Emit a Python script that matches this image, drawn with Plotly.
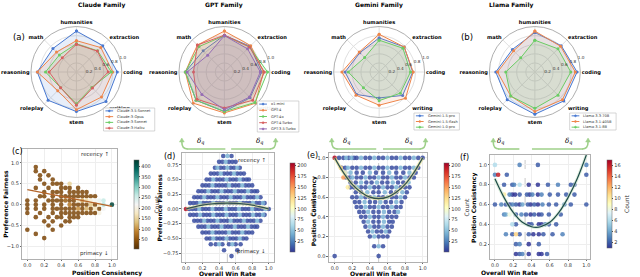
import plotly.graph_objects as go

W, H = 640, 277
def X(px): return px / W
def Y(py): return 1 - py / H

FONT = "DejaVu Sans"
categories = ["humanities", "extraction", "coding", "writing", "stem", "roleplay", "reasoning", "math"]

claude_family = {
    "Claude-3.5-Sonnet": [0.90, 0.82, 0.90, 0.92, 0.87, 0.88, 0.86, 0.73],
    "Claude-3-Opus":     [0.69, 0.76, 0.80, 0.78, 0.83, 0.58, 0.86, 0.62],
    "Claude-3-Sonnet":   [0.62, 0.66, 0.77, 0.48, 0.70, 0.49, 0.68, 0.53],
    "Claude-3-Haiku":    [0.61, 0.65, 0.70, 0.50, 0.73, 0.49, 0.60, 0.44],
}
gpt_family = {
    "o1-mini":       [0.81, 0.80, 0.82, 0.80, 0.87, 0.88, 0.86, 0.66],
    "GPT-4":         [0.90, 0.82, 0.86, 0.97, 0.90, 0.97, 0.86, 0.84],
    "GPT-4o":        [0.80, 0.78, 0.95, 0.95, 0.87, 0.88, 0.86, 0.79],
    "GPT-4-Turbo":   [0.81, 0.78, 0.88, 0.88, 0.79, 0.85, 0.68, 0.84],
    "GPT-3.5-Turbo": [0.80, 0.72, 0.79, 0.78, 0.83, 0.70, 0.82, 0.52],
}
gemini_family = {
    "Gemini-1.5-pro":   [0.75, 0.78, 0.74, 0.73, 0.57, 0.70, 0.75, 0.60],
    "Gemini-1.5-flash": [0.83, 0.78, 0.75, 0.82, 0.73, 0.72, 0.82, 0.62],
    "Gemini-1.0-pro":   [0.70, 0.74, 0.69, 0.66, 0.63, 0.49, 0.68, 0.45],
}
llama_family = {
    "Llama-3.3-70B":  [0.87, 0.82, 0.93, 0.90, 0.93, 0.86, 0.86, 0.70],
    "Llama-3.1-405B": [0.90, 0.80, 0.89, 0.86, 0.87, 0.75, 0.82, 0.66],
    "Llama-3.1-8B":   [0.70, 0.72, 0.79, 0.72, 0.80, 0.75, 0.64, 0.44],
}
family_titles = ["Claude Family", "GPT Family", "Gemini Family", "Llama Family"]
palette = ["#4878d0", "#ee854a", "#6acc64", "#d65f5f", "#956cb4"]
palette_rgb = [(72, 120, 208), (238, 133, 74), (106, 204, 100), (214, 95, 95), (149, 108, 180)]
radial_ticks = [0.2, 0.4, 0.6, 0.8, 1.0]

# ---- (c) Position Consistency vs Preference Fairness ----
c_columns = {
    0.0: [0.1, 0.0, -0.1, -0.2, -0.6],
    0.1: [0.9, 0.8, 0.4, 0.1, 0.0, -0.1, -0.3, -0.7],
    0.15: [0.7, 0.6, 0.2, -0.2],
    0.2: [0.8, 0.5, 0.3, 0.2, 0.0, -0.1, -0.4, -0.8],
    0.25: [0.7, 0.4, 0.1, -0.3, -0.5],
    0.3: [0.6, 0.5, 0.3, 0.2, 0.1, 0.0, -0.1, -0.2, -0.4, -0.6],
    0.35: [0.5, 0.3, 0.1, -0.1, -0.3],
    0.4: [0.5, 0.4, 0.3, 0.2, 0.1, 0.0, -0.1, -0.2, -0.3, -0.5],
    0.45: [0.4, 0.2, 0.1, -0.1, -0.2, -0.4],
    0.5: [0.5, 0.4, 0.3, 0.2, 0.1, 0.0, -0.1, -0.2, -0.3, -0.4],
    0.55: [0.3, 0.2, 0.1, 0.0, -0.1, -0.2, -0.3],
    0.6: [0.4, 0.3, 0.2, 0.1, 0.0, -0.1, -0.2, -0.3],
    0.65: [0.3, 0.2, 0.1, 0.0, -0.1, -0.2],
    0.7: [0.3, 0.2, 0.1, 0.0, -0.1, -0.2],
    0.75: [0.2, 0.1, 0.0, -0.1, -0.2],
    0.8: [0.2, 0.1, 0.0, -0.1, -0.2],
    0.85: [0.1, 0.0, -0.1, -0.2],
    0.9: [0.1, 0.0, -0.1],
    1.0: [0.0],
}
c_default_count = 35
c_special_counts = {
    (0.5, 0.5): 150, (0.6, 0.1): 180, (0.7, 0.1): 160, (0.75, 0.1): 190, (0.8, 0.1): 210,
    (0.85, 0.1): 230, (0.9, 0.1): 260, (0.9, 0.0): 270, (0.85, 0.0): 180, (0.8, -0.1): 170,
    (0.85, -0.2): 200, (0.9, -0.1): 220, (0.7, -0.1): 120, (1.0, 0.0): 420, (0.6, -0.1): 100,
    (0.5, 0.0): 80, (0.45, 0.1): 60, (0.75, 0.0): 140, (0.65, 0.1): 110,
}
c_fit_x = [0.0, 1.0]
c_fit_y = [0.36, -0.04]

# ---- (d) Overall Win Rate (%) vs Preference Fairness ----
d_rows = {
    0.9: ([45, 55], [50]),
    0.8: ([40, 44, 52, 56, 60], [48]),
    0.7: ([35, 42, 46, 54, 58, 65], [38, 50, 62]),
    0.6: ([30, 34, 38, 46, 50, 54, 62, 66, 70], [42, 58]),
    0.5: ([25, 29, 37, 41, 45, 53, 57, 61, 69, 73, 76], [33, 49, 65]),
    0.4: ([20, 24, 28, 36, 40, 44, 48, 56, 60, 64, 72, 76, 80], [32, 52, 68]),
    0.3: ([15, 19, 23, 31, 35, 39, 47, 51, 55, 63, 67, 71, 79, 83, 86], [27, 43, 59, 75]),
    0.2: ([10, 14, 18, 26, 30, 34, 42, 46, 50, 58, 62, 66, 74, 78, 82, 90], [22, 38, 54, 70, 86]),
    0.1: ([5, 9, 13, 21, 25, 29, 37, 41, 45, 53, 57, 61, 69, 73, 77, 85, 89, 95], [17, 33, 49, 65, 81, 93]),
    0.0: ([4, 8, 12, 20, 24, 28, 36, 40, 44, 52, 56, 60, 68, 72, 76, 84, 88, 92, 100], [16, 32, 48, 64, 80, 96]),
    -0.1: ([5, 9, 13, 21, 25, 29, 37, 41, 45, 53, 57, 61, 69, 73, 77, 85, 89, 95], [17, 33, 49, 65, 81, 93]),
    -0.2: ([10, 14, 18, 26, 30, 34, 42, 46, 50, 58, 62, 66, 74, 78, 82, 90], [22, 38, 54, 70, 86]),
    -0.3: ([15, 19, 23, 31, 35, 39, 47, 51, 55, 63, 67, 71, 79, 83, 86], [27, 43, 59, 75]),
    -0.4: ([20, 24, 28, 36, 40, 44, 48, 56, 60, 64, 72, 76, 80], [32, 52, 68]),
    -0.5: ([25, 29, 37, 41, 45, 53, 57, 61, 69, 73], [33, 49, 65]),
    -0.6: ([30, 36, 44, 52, 60, 66], [40, 56]),
    -0.7: ([46, 62], []),
    -0.8: ([55], []),
}
d_special = [(0, 0.0, 200)]
d_fit_x = [0.0, 0.1, 0.2, 0.3, 0.4, 0.5, 0.6, 0.7, 0.8, 0.9, 1.0]
d_fit_y = [0.0, 0.036, 0.064, 0.084, 0.096, 0.10, 0.096, 0.084, 0.064, 0.036, 0.0]

# ---- (e) Overall Win Rate (%) vs Position Consistency ----
e_rows = {
    1.0: ([5, 10, 16, 22, 25, 35, 40, 50, 55, 65, 70, 80, 85, 95, 100], [13, 19, 30, 45, 60, 75, 90]),
    0.9: ([8, 12, 20, 25, 35, 40, 50, 55, 65, 70, 80, 85, 95], [15, 30, 45, 60, 75, 90]),
    0.85: ([12, 25, 32, 47, 55, 70, 78, 92], [18, 40, 62, 85]),
    0.8: ([13, 17, 25, 30, 40, 45, 55, 60, 70, 75, 85, 90], [20, 35, 50, 65, 80]),
    0.75: ([18, 24, 36, 42, 54, 60, 72, 78], [30, 48, 66, 84]),
    0.7: ([18, 22, 30, 35, 45, 50, 60, 65, 75, 80, 85], [26, 40, 55, 70]),
    0.65: ([24, 30, 44, 50, 64, 70, 82], [37, 57, 77]),
    0.6: ([20, 25, 35, 40, 50, 55, 65, 70, 80], [30, 45, 60, 75]),
    0.55: ([23, 28, 40, 46, 58, 64, 76], [34, 52, 70]),
    0.5: ([25, 30, 40, 45, 55, 60, 70, 75], [35, 50, 65]),
    0.45: ([28, 33, 44, 50, 62, 68], [38, 56, 72]),
    0.4: ([30, 35, 45, 50, 60, 65, 70], [40, 55]),
    0.35: ([33, 44, 50, 62, 66], [38, 56]),
    0.3: ([35, 45, 50, 60, 65], [40, 55]),
    0.25: ([38, 48, 53, 62], [43, 58]),
    0.2: ([40, 50, 55, 60], [45]),
    0.1: ([45, 55], [50]),
    0.0: ([0, 50], []),
}
e_special = [(0, 1.0, 200), (7, 0.9, 130), (10, 0.8, 150), (15, 0.7, 115), (12, 0.85, 95)]
e_fit_x = [0.0, 0.1, 0.2, 0.3, 0.4, 0.5, 0.6, 0.7, 0.8, 0.9, 1.0]
e_fit_y = [1.0, 0.85, 0.73, 0.65, 0.60, 0.585, 0.60, 0.65, 0.73, 0.85, 1.0]

# ---- (f) Overall Win Rate vs Position Consistency (x, count) per row ----
f_rows = {
    1.0: [(0.0, 6), (0.27, 3), (0.47, 2), (1.0, 3)],
    0.9: [(0.0, 3), (0.035, 16), (0.13, 2), (1.0, 2)],
    0.8: [(0.1, 2), (0.19, 2), (0.21, 3), (0.27, 6), (0.37, 1), (0.47, 1), (0.58, 2), (0.69, 3), (0.83, 2), (0.87, 2)],
    0.7: [(0.1, 10), (0.16, 3), (0.19, 1), (0.22, 1), (0.27, 2), (0.35, 2), (0.38, 1), (0.41, 3), (0.47, 1),
          (0.51, 3), (0.6, 2), (0.69, 2), (0.78, 2), (0.87, 2)],
    0.6: [(0.0, 2), (0.07, 3), (0.12, 2), (0.16, 1), (0.19, 3), (0.23, 2), (0.27, 1), (0.3, 4), (0.36, 2),
          (0.39, 1), (0.43, 2), (0.47, 1), (0.52, 3), (0.59, 2), (0.67, 2), (0.76, 3), (0.83, 2), (1.0, 2)],
    0.5: [(0.1, 3), (0.12, 4), (0.16, 8), (0.23, 2), (0.29, 3), (0.34, 2), (0.39, 1), (0.43, 2), (0.48, 1),
          (0.51, 2), (0.59, 2), (0.72, 2)],
    0.4: [(0.19, 6), (0.23, 2), (0.37, 1), (0.4, 2), (0.48, 1), (0.51, 1), (0.55, 3), (0.59, 2), (0.67, 2)],
    0.3: [(0.12, 3), (0.19, 2), (0.23, 11), (0.27, 2), (0.37, 2), (0.42, 1), (0.48, 1), (0.53, 2), (0.63, 2), (0.74, 3)],
    0.2: [(0.23, 2), (0.27, 3), (0.37, 1), (0.48, 2)],
    0.1: [(0.23, 1), (0.27, 2), (0.3, 3), (0.37, 1), (0.48, 1), (0.51, 1), (0.57, 2)],
}
f_fit_x = [0.0, 0.1, 0.2, 0.3, 0.4, 0.45, 0.5, 0.6, 0.7, 0.8, 0.9, 1.0]
f_fit_y = [0.86, 0.67, 0.52, 0.42, 0.376, 0.37, 0.376, 0.42, 0.52, 0.67, 0.86, 1.10]
f_split = 0.33

dark_count, light_count = 8, 45

fig = go.Figure()

# ---------------- radar charts ----------------
families = [claude_family, gpt_family, gemini_family, llama_family]
centers = [(79, 72), (232, 72), (392, 72), (553, 72)]
R = 47
legend_boxes = [(107, 108, 160, 131), (266, 101, 309, 132), (428, 113, 475, 130), (589, 113, 637, 130)]
shapes = []
annotations = []

for i, fam in enumerate(families):
    key = "polar" if i == 0 else f"polar{i+1}"
    for j, (name, vals) in enumerate(fam.items()):
        r, g, b = palette_rgb[j]
        fig.add_trace(go.Scatterpolar(
            r=vals + vals[:1], theta=categories + categories[:1], subplot=key,
            mode="lines+markers", fill="toself", fillcolor=f"rgba({r},{g},{b},0.13)",
            line=dict(color=palette[j], width=1), marker=dict(size=3, color=palette[j]),
            showlegend=False, name=name))
    cx, cy = centers[i]
    fig.update_layout(**{key: dict(
        domain=dict(x=[X(cx - R), X(cx + R)], y=[Y(cy + R), Y(cy - R)]),
        bgcolor="white",
        angularaxis=dict(rotation=90, direction="clockwise", tickfont=dict(size=5.1, family=FONT, color="black", weight="bold"),
                         gridcolor="#e0e0e0", gridwidth=0.6, linecolor="#9a9a9a", linewidth=0.8, ticks=""),
        radialaxis=dict(range=[0, 1.0], tickvals=radial_ticks, ticktext=[f"{t:.1f}" for t in radial_ticks],
                        tickfont=dict(size=4.2, family=FONT, color="#333"), angle=22.5, tickangle=22.5,
                        showline=False, gridcolor="#e0e0e0", gridwidth=0.6, ticks=""),
    )})
    annotations.append(dict(text=f"<b>{family_titles[i]}</b>", x=X(cx), y=Y(5), xref="paper", yref="paper",
                            showarrow=False, font=dict(size=6, family=FONT, color="black"), yanchor="middle"))
    # manual legend
    x0, y0, x1, y1 = legend_boxes[i]
    shapes.append(dict(type="rect", xref="paper", yref="paper", x0=X(x0), x1=X(x1), y0=Y(y1), y1=Y(y0),
                       line=dict(color="#bbbbbb", width=0.6), fillcolor="rgba(255,255,255,0.92)", layer="above"))
    n = len(fam)
    step = (y1 - y0) / n
    for j, name in enumerate(fam.keys()):
        yy = y0 + step * (j + 0.5)
        shapes.append(dict(type="line", xref="paper", yref="paper", x0=X(x0 + 2), x1=X(x0 + 10), y0=Y(yy), y1=Y(yy),
                           line=dict(color=palette[j], width=1), layer="above"))
        shapes.append(dict(type="circle", xref="paper", yref="paper", x0=X(x0 + 5), x1=X(x0 + 7), y0=Y(yy + 1), y1=Y(yy - 1),
                           line=dict(color=palette[j], width=0.5), fillcolor=palette[j], layer="above"))
        annotations.append(dict(text=name, x=X(x0 + 12), y=Y(yy), xref="paper", yref="paper", showarrow=False,
                                xanchor="left", yanchor="middle", font=dict(size=3.6, family=FONT, color="#333")))

annotations.append(dict(text="(a)", x=X(11), y=Y(30), xref="paper", yref="paper", showarrow=False,
                        font=dict(size=8.5, family=FONT, color="black")))
annotations.append(dict(text="(b)", x=X(491), y=Y(30), xref="paper", yref="paper", showarrow=False,
                        font=dict(size=8.5, family=FONT, color="black")))

# ---------------- scatter panels ----------------
def build_c():
    xs, ys, cs = [], [], []
    for xv, ylist in c_columns.items():
        for yv in ylist:
            xs.append(xv); ys.append(yv); cs.append(c_special_counts.get((xv, yv), c_default_count))
    return xs, ys, cs

def build_rows(rows, special):
    xs, ys, cs = [], [], []
    for yv, (dark, light) in rows.items():
        for xv in dark:
            xs.append(xv / 100); ys.append(yv); cs.append(dark_count)
        for xv in light:
            xs.append(xv / 100); ys.append(yv); cs.append(light_count)
    for xv, yv, cnt in special:
        xs.append(xv / 100); ys.append(yv); cs.append(cnt)
    return xs, ys, cs

def build_f():
    xs, ys, cs = [], [], []
    for yv, pts in f_rows.items():
        for xv, cnt in pts:
            xs.append(xv); ys.append(yv); cs.append(cnt)
    return xs, ys, cs

def sort_by_count(xs, ys, cs):
    order = sorted(range(len(cs)), key=lambda k: cs[k])
    return [xs[k] for k in order], [ys[k] for k in order], [cs[k] for k in order]

panels = [
    dict(data=build_c(), ax="", ca="coloraxis", fitx=c_fit_x, fity=c_fit_y, fitcolor="#b5652a", glow=None),
    dict(data=build_rows(d_rows, d_special), ax="2", ca="coloraxis2", fitx=d_fit_x, fity=d_fit_y, fitcolor="#2f4f4f", glow="rgba(230,225,150,0.6)"),
    dict(data=build_rows(e_rows, e_special), ax="3", ca="coloraxis3", fitx=e_fit_x, fity=e_fit_y, fitcolor="#2f4f4f", glow="rgba(230,225,150,0.7)"),
    dict(data=build_f(), ax="4", ca="coloraxis4", fitx=f_fit_x, fity=f_fit_y, fitcolor="#1f4a4a", glow="rgba(200,230,200,0.6)"),
]
for p in panels:
    xs, ys, cs = sort_by_count(*p["data"])
    fig.add_trace(go.Scatter(x=xs, y=ys, mode="markers", xaxis="x" + p["ax"], yaxis="y" + p["ax"], showlegend=False,
                             marker=dict(color=cs, coloraxis=p["ca"], size=4.6, opacity=0.85, line=dict(width=0))))
    if p["glow"]:
        fig.add_trace(go.Scatter(x=p["fitx"], y=p["fity"], mode="lines", line=dict(color=p["glow"], width=3.2, shape="spline"),
                                 xaxis="x" + p["ax"], yaxis="y" + p["ax"], showlegend=False, hoverinfo="skip"))
    fig.add_trace(go.Scatter(x=p["fitx"], y=p["fity"], mode="lines", line=dict(color=p["fitcolor"], width=1.2, shape="spline"),
                             xaxis="x" + p["ax"], yaxis="y" + p["ax"], showlegend=False, hoverinfo="skip"))

tickfont = dict(size=5, family=FONT, color="#333")
common = dict(showline=True, linecolor="#b0b0b0", linewidth=0.8, mirror=True, gridcolor="#eeeeee", gridwidth=0.6,
              zeroline=False, ticks="outside", ticklen=1.5, tickwidth=0.6, tickcolor="#666", tickfont=tickfont)
xt = [0, 0.2, 0.4, 0.6, 0.8, 1.0]

fig.update_layout(
    xaxis=dict(domain=[X(23), X(121)], range=[-0.06, 1.06], tickvals=xt, tickformat=".1f", anchor="y", **common),
    yaxis=dict(domain=[Y(259), Y(149)], range=[-1.3, 1.33], tickvals=[-1, -0.5, 0, 0.5, 1], tickformat=".1f", anchor="x", **common),
    xaxis2=dict(domain=[X(188), X(283)], range=[-0.05, 1.06], tickvals=xt, tickformat=".1f", anchor="y2", **common),
    yaxis2=dict(domain=[Y(262), Y(153)], range=[-0.9, 0.95], tickvals=[-0.75, -0.5, -0.25, 0, 0.25, 0.5, 0.75], tickformat=".2f",
                anchor="x2", **common),
    xaxis3=dict(domain=[X(340), X(442)], range=[-0.066, 1.055], tickvals=xt, tickformat=".1f", anchor="y3", **common),
    yaxis3=dict(domain=[Y(262), Y(153)], range=[-0.06, 1.05], tickvals=xt, tickformat=".1f", anchor="x3", **common),
    xaxis4=dict(domain=[X(507), X(610)], range=[-0.05, 1.04], tickvals=xt, tickformat=".1f", anchor="y4", **common),
    yaxis4=dict(domain=[Y(259), Y(155)], range=[0.05, 1.1], tickvals=[0.2, 0.4, 0.6, 0.8, 1.0], tickformat=".1f", anchor="x4", **common),
)

# axis titles as annotations for exact placement
titlefont = dict(size=6, family=FONT, color="black", weight="bold")
for text, px, py in [("Position Consistency", 72, 273), ("Overall Win Rate", 235, 273.5), ("Overall Win Rate", 391, 273.5),
                     ("Overall Win Rate", 558, 272.5)]:
    annotations.append(dict(text=text, x=X(px), y=Y(py), xref="paper", yref="paper", showarrow=False, yanchor="middle",
                            font=titlefont))
for text, px, py in [("Preference Fairness", 5, 204), ("Preference Fairness", 164, 208), ("Position Consistency", 325, 211),
                     ("Position Consistency", 490, 208)]:
    annotations.append(dict(text=text, x=X(px), y=Y(py), xref="paper", yref="paper", showarrow=False, textangle=-90,
                            xanchor="center", yanchor="middle", font=titlefont))

def cbar(xpx, ytop, ybot, ticks):
    return dict(x=X(xpx), xanchor="left", y=Y((ytop + ybot) / 2), yanchor="middle", len=(ybot - ytop) / H, lenmode="fraction",
                thickness=5, outlinewidth=0.5, outlinecolor="#666", tickvals=ticks, tickfont=dict(size=5, family=FONT, color="#333"),
                ticks="outside", ticklen=1.5, title=dict(text="Count", side="right", font=dict(size=6, family=FONT, color="#333")))

fig.update_layout(
    coloraxis=dict(colorscale="BrBG", cmin=5, cmax=430, colorbar=cbar(128, 150, 259, [50, 100, 150, 200, 250, 300, 350, 400])),
    coloraxis2=dict(colorscale="RdYlBu", reversescale=True, cmin=1, cmax=205, colorbar=cbar(289, 153, 262, [25, 50, 75, 100, 125, 150, 175, 200])),
    coloraxis3=dict(colorscale="RdYlBu", reversescale=True, cmin=1, cmax=205, colorbar=cbar(449, 153, 262, [25, 50, 75, 100, 125, 150, 175, 200])),
    coloraxis4=dict(colorscale="RdYlBu", reversescale=True, cmin=1, cmax=17, colorbar=cbar(617, 150, 258, [2, 4, 6, 8, 10, 12, 14, 16])),
)

# dashed split lines
for ax, xv in [("2", 0.5), ("3", 0.5), ("4", f_split)]:
    shapes.append(dict(type="line", xref="x" + ax, yref="y" + ax + " domain", x0=xv, x1=xv, y0=0, y1=1,
                       line=dict(color="#bbbbbb", width=0.8, dash="dash"), layer="below"))

# brackets with curved arrows above d, e, f
green = "#9fd08a"
for (l0, l1, r0, r1, lab_l, lab_r) in [(188, 233, 239, 285, 202, 268), (343, 389, 396, 440, 358, 428), (510, 537, 550, 608, 523, 593)]:
    yl = 149
    shapes.append(dict(type="line", xref="paper", yref="paper", x0=X(l0 + 5), x1=X(l1), y0=Y(yl), y1=Y(yl), line=dict(color=green, width=1.6)))
    shapes.append(dict(type="line", xref="paper", yref="paper", x0=X(r0), x1=X(r1 - 5), y0=Y(yl), y1=Y(yl), line=dict(color=green, width=1.6)))
    shapes.append(dict(type="path", xref="paper", yref="paper",
                       path=f"M {X(l0+6)},{Y(yl)} Q {X(l0)},{Y(yl)} {X(l0)},{Y(yl-7)}", line=dict(color=green, width=1.6)))
    shapes.append(dict(type="path", xref="paper", yref="paper",
                       path=f"M {X(l0-2.5)},{Y(yl-7)} L {X(l0+2.5)},{Y(yl-7)} L {X(l0)},{Y(yl-11)} Z", line=dict(color=green, width=0.5), fillcolor=green))
    shapes.append(dict(type="path", xref="paper", yref="paper",
                       path=f"M {X(r1-6)},{Y(yl)} Q {X(r1)},{Y(yl)} {X(r1)},{Y(yl-7)}", line=dict(color=green, width=1.6)))
    shapes.append(dict(type="path", xref="paper", yref="paper",
                       path=f"M {X(r1-2.5)},{Y(yl-7)} L {X(r1+2.5)},{Y(yl-7)} L {X(r1)},{Y(yl-11)} Z", line=dict(color=green, width=0.5), fillcolor=green))
    for lx in (lab_l, lab_r):
        annotations.append(dict(text="<i>δ</i><sub><i>q</i></sub>", x=X(lx), y=Y(141), xref="paper", yref="paper", showarrow=False,
                                font=dict(size=7, family="DejaVu Serif", color="black")))

# panel labels and text
for lab, px, py in [("(c)", 10, 151), ("(d)", 168, 156), ("(e)", 323, 155), ("(f)", 487, 157)]:
    annotations.append(dict(text=lab, x=X(px), y=Y(py), xref="paper", yref="paper", showarrow=False,
                            font=dict(size=8, family=FONT, color="black")))
for ax, ytop, ybot in [("", 1.2, -1.17), ("2", 0.83, -0.72)]:
    annotations.append(dict(text="recency ↑", x=0.99, y=ytop, xref="x" + ax, yref="y" + ax, showarrow=False, xanchor="right",
                            font=dict(size=5.5, family=FONT, color="#333")))
    annotations.append(dict(text="primacy ↓", x=0.99, y=ybot, xref="x" + ax, yref="y" + ax, showarrow=False, xanchor="right",
                            font=dict(size=5.5, family=FONT, color="#333")))

fig.update_layout(width=W, height=H, margin=dict(l=0, r=0, t=0, b=0), paper_bgcolor="white", plot_bgcolor="white",
                  shapes=shapes, annotations=annotations, showlegend=False, font=dict(family=FONT))
fig.write_html("out.html", config={"displayModeBar": False},
               post_script="document.body.style.margin='0px';document.body.style.overflow='hidden';")
